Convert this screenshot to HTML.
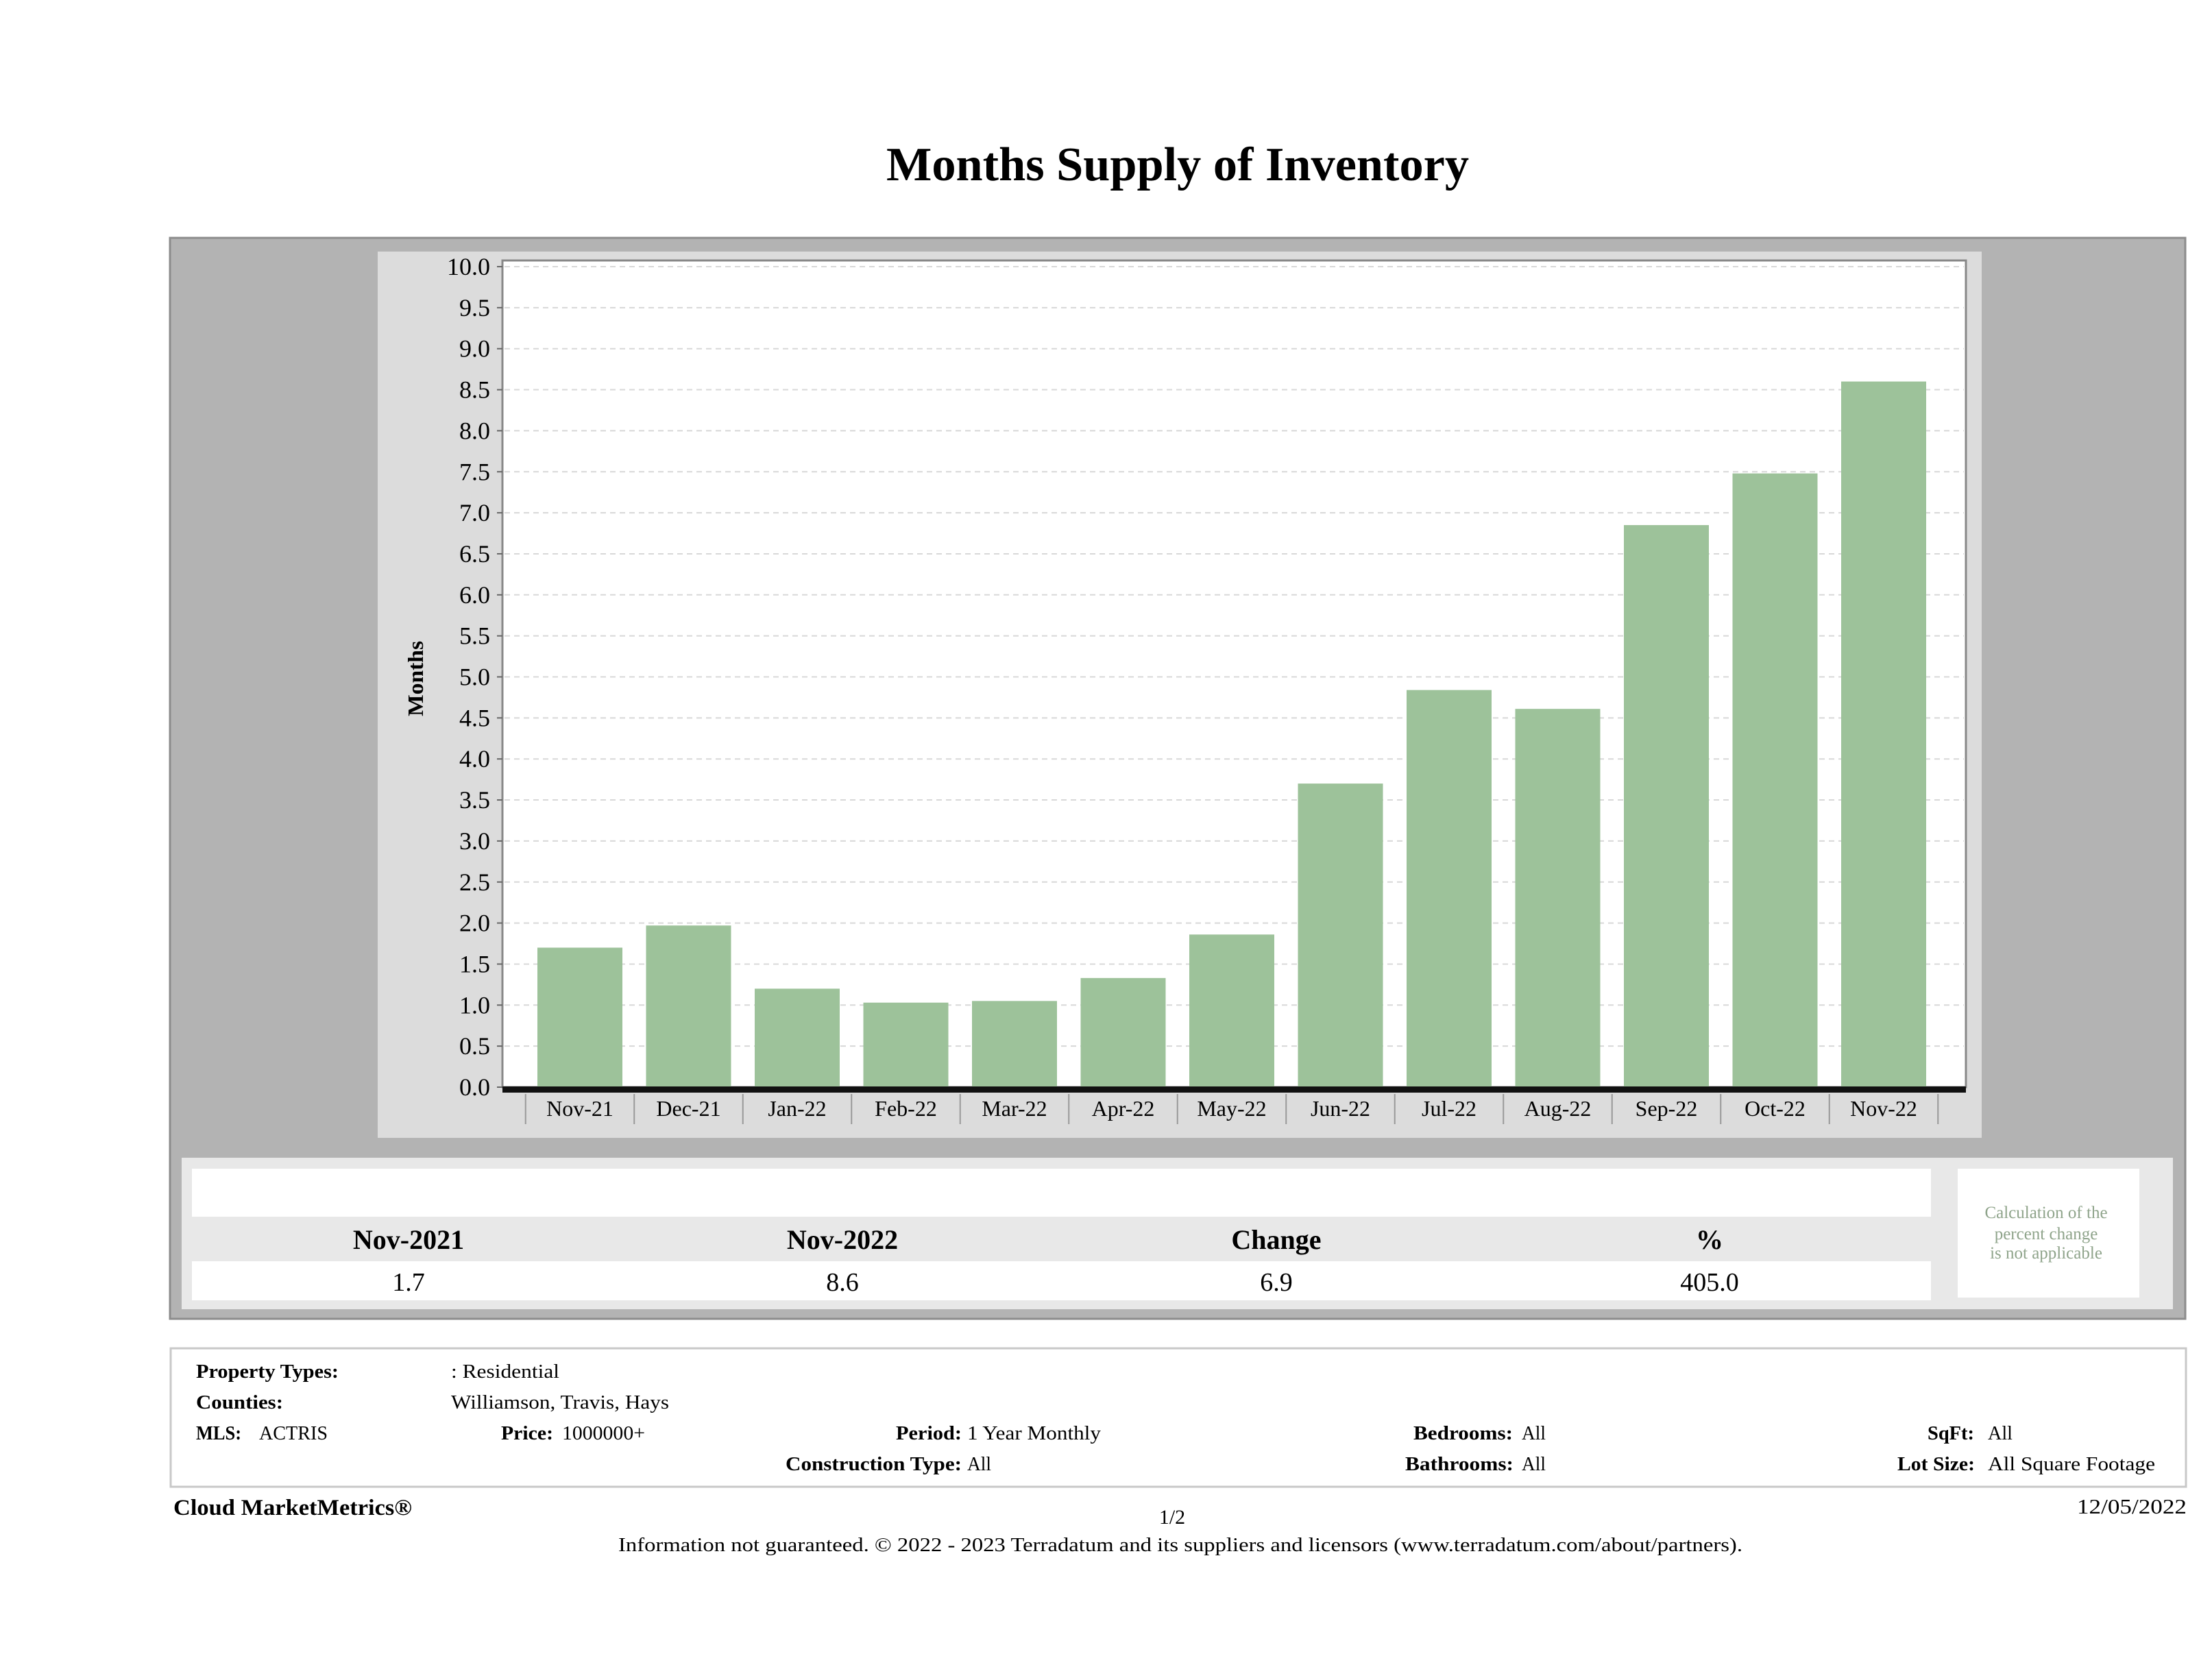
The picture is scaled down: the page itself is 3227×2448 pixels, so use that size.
<!DOCTYPE html>
<html><head><meta charset="utf-8"><style>
html,body{margin:0;padding:0;background:#fff;}
svg{display:block;font-family:"Liberation Serif",serif;}
</style></head><body>
<svg id="root" width="3227" height="2448" viewBox="0 0 3227 2448" xmlns="http://www.w3.org/2000/svg">
<text x="1718" y="263" text-anchor="middle" font-size="70" font-weight="bold" textLength="850" lengthAdjust="spacingAndGlyphs">Months Supply of Inventory</text>
<rect x="248" y="347" width="2940" height="1577" fill="#b3b3b3" stroke="#8c8c8c" stroke-width="3"/>
<rect x="551" y="367" width="2340" height="1293" fill="#dcdcdc"/>
<rect x="733" y="380" width="2135" height="1206" fill="#fff" stroke="#888" stroke-width="3"/>
<g id="grid"></g>
<g id="bars"></g>
<g id="yticks"></g>
<g id="xticks"></g>
<text transform="translate(617,990) rotate(-90)" text-anchor="middle" font-size="32" font-weight="bold" textLength="110" lengthAdjust="spacingAndGlyphs">Months</text>

<rect x="265" y="1689" width="2905" height="221" fill="#e8e8e8"/>
<rect x="280" y="1705" width="2537" height="70" fill="#fff"/>
<rect x="280" y="1840" width="2537" height="57" fill="#fff"/>
<g font-size="40" font-weight="bold" text-anchor="middle">
<text x="596" y="1822">Nov-2021</text>
<text x="1229" y="1822">Nov-2022</text>
<text x="1862" y="1822">Change</text>
<text x="2494" y="1822">%</text>
</g>
<g font-size="38" text-anchor="middle">
<text x="596" y="1883">1.7</text>
<text x="1229" y="1883">8.6</text>
<text x="1862" y="1883">6.9</text>
<text x="2494" y="1883">405.0</text>
</g>
<rect x="2856" y="1705" width="265" height="188" fill="#fff"/>
<g font-size="25" fill="#8fa48b" text-anchor="middle">
<text x="2985" y="1777">Calculation of the</text>
<text x="2985" y="1808">percent change</text>
<text x="2985" y="1836">is not applicable</text>
</g>

<rect x="249" y="1967" width="2940" height="202" fill="#fff" stroke="#c8c8c8" stroke-width="3"/>
<g font-size="29">
<text x="286" y="2010" font-weight="bold" textLength="208" lengthAdjust="spacingAndGlyphs">Property Types:</text>
<text x="658" y="2010" textLength="158" lengthAdjust="spacingAndGlyphs">: Residential</text>
<text x="286" y="2055" font-weight="bold" textLength="127" lengthAdjust="spacingAndGlyphs">Counties:</text>
<text x="658" y="2055" textLength="318" lengthAdjust="spacingAndGlyphs">Williamson, Travis, Hays</text>
<text x="286" y="2100" font-weight="bold" textLength="66" lengthAdjust="spacingAndGlyphs">MLS:</text>
<text x="378" y="2100" textLength="100" lengthAdjust="spacingAndGlyphs">ACTRIS</text>
<text x="731" y="2100" font-weight="bold" textLength="76" lengthAdjust="spacingAndGlyphs">Price:</text>
<text x="820" y="2100" textLength="121" lengthAdjust="spacingAndGlyphs">1000000+</text>
<text x="1307" y="2100" font-weight="bold" textLength="96" lengthAdjust="spacingAndGlyphs">Period:</text>
<text x="1411" y="2100" textLength="195" lengthAdjust="spacingAndGlyphs">1 Year Monthly</text>
<text x="1146" y="2145" font-weight="bold" textLength="257" lengthAdjust="spacingAndGlyphs">Construction Type:</text>
<text x="1411" y="2145" textLength="35" lengthAdjust="spacingAndGlyphs">All</text>
<text x="2062" y="2100" font-weight="bold" textLength="145" lengthAdjust="spacingAndGlyphs">Bedrooms:</text>
<text x="2220" y="2100" textLength="35" lengthAdjust="spacingAndGlyphs">All</text>
<text x="2050" y="2145" font-weight="bold" textLength="158" lengthAdjust="spacingAndGlyphs">Bathrooms:</text>
<text x="2220" y="2145" textLength="35" lengthAdjust="spacingAndGlyphs">All</text>
<text x="2812" y="2100" font-weight="bold" textLength="68" lengthAdjust="spacingAndGlyphs">SqFt:</text>
<text x="2900" y="2100" textLength="36" lengthAdjust="spacingAndGlyphs">All</text>
<text x="2768" y="2145" font-weight="bold" textLength="113" lengthAdjust="spacingAndGlyphs">Lot Size:</text>
<text x="2900" y="2145" textLength="244" lengthAdjust="spacingAndGlyphs">All Square Footage</text>
</g>
<text x="253" y="2210" font-size="33" font-weight="bold" textLength="348" lengthAdjust="spacingAndGlyphs">Cloud MarketMetrics®</text>
<text x="1710" y="2223" font-size="30" text-anchor="middle">1/2</text>
<text x="3190" y="2208" font-size="31" text-anchor="end" textLength="160" lengthAdjust="spacingAndGlyphs">12/05/2022</text>
<text x="902" y="2263" font-size="29" textLength="1640" lengthAdjust="spacingAndGlyphs">Information not guaranteed. © 2022 - 2023 Terradatum and its suppliers and licensors (www.terradatum.com/about/partners).</text>
</svg>
<script>
const categories = ["Nov-21","Dec-21","Jan-22","Feb-22","Mar-22","Apr-22","May-22","Jun-22","Jul-22","Aug-22","Sep-22","Oct-22","Nov-22"];
const values = [1.7, 1.97, 1.2, 1.03, 1.05, 1.33, 1.86, 3.7, 4.84, 4.61, 6.85, 7.48, 8.6];
const yTicks = ["0.0","0.5","1.0","1.5","2.0","2.5","3.0","3.5","4.0","4.5","5.0","5.5","6.0","6.5","7.0","7.5","8.0","8.5","9.0","9.5","10.0"];

const NS = "http://www.w3.org/2000/svg";
const plotL = 733, plotR = 2868, y0 = 1586, y10 = 389, yMax = 10;
const firstC = 846, lastC = 2748;
const step = (lastC - firstC) / (categories.length - 1);
const barW = 124;
function yScale(v){ return y0 - (v / yMax) * (y0 - y10); }
function xScale(i){ return firstC + i * step; }
function mk(tag, attrs, parent){ const e = document.createElementNS(NS, tag); for (const k in attrs) e.setAttribute(k, attrs[k]); parent.appendChild(e); return e; }

const grid = document.getElementById("grid");
const yt = document.getElementById("yticks");
yTicks.forEach(t => {
  const v = parseFloat(t), y = yScale(v);
  if (v > 0) {
    const l = mk("line", {x1: plotL+3, x2: plotR-3, y1: y, y2: y, stroke: "#d8d8d8", "stroke-width": 2, "stroke-dasharray": "8,6"}, grid);
    
    
  }
  const tk = mk("line", {x1: plotL-8, x2: plotL, y1: y, y2: y, stroke: "#666", "stroke-width": 2}, yt);
  
  
  const tx = mk("text", {x: 715, y: y + 12, "text-anchor": "end", "font-size": 36}, yt);
  tx.textContent = t;
  
  
});

const bars = document.getElementById("bars");
values.forEach((v, i) => {
  const y = yScale(v);
  const r = mk("rect", {x: xScale(i) - barW/2, y: y, width: barW, height: y0 - y, fill: "#9dc29a"}, bars);
  
  
});

const xt = document.getElementById("xticks");
const ax = mk("rect", {x: plotL, y: y0 - 1, width: plotR - plotL, height: 9, fill: "#111"}, xt);


categories.forEach((c, i) => {
  const x = xScale(i);
  const s = mk("line", {x1: x - step/2, x2: x - step/2, y1: 1596, y2: 1640, stroke: "#999", "stroke-width": 2}, xt);
  
  
  const t = mk("text", {x: x, y: 1628, "text-anchor": "middle", "font-size": 32}, xt);
  t.textContent = c;
  
  
});
const lastSep = mk("line", {x1: xScale(categories.length - 1) + step/2, x2: xScale(categories.length - 1) + step/2, y1: 1596, y2: 1640, stroke: "#999", "stroke-width": 2}, xt);


</script>
</body></html>
